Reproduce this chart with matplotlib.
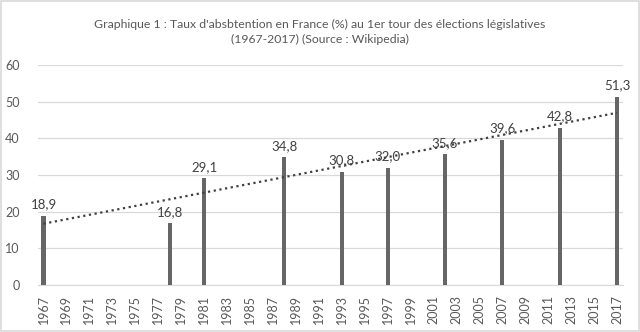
import numpy as np
import matplotlib.pyplot as plt
from matplotlib.patches import Rectangle

plt.rcParams['font.family'] = ['Lato', 'DejaVu Sans']

# Abstention au 1er tour des législatives (%)
annees = [1967, 1978, 1981, 1988, 1993, 1997, 2002, 2007, 2012, 2017]
abstention = [18.9, 16.8, 29.1, 34.8, 30.8, 32.0, 35.6, 39.6, 42.8, 51.3]
toutes_annees = list(range(1967, 2018))

fig = plt.figure(figsize=(6.4, 3.32), dpi=100)
ax = fig.add_axes([0.059, 0.1416, 0.914, 0.6627])

pos = [toutes_annees.index(a) for a in annees]
ax.bar(pos, abstention, width=0.35, color='#666666', zorder=3)

# tendance linéaire
coef = np.polyfit(annees, abstention, 1)
xt = np.array([toutes_annees[0], toutes_annees[-1]])
ax.plot([0, len(toutes_annees) - 1], np.polyval(coef, xt), linestyle=(0, (1, 1.6)),
        color='#404040', linewidth=1.6, zorder=4)

for p, v in zip(pos, abstention):
    ax.annotate(f'{v:.1f}'.replace('.', ','), (p, v), xytext=(0, 4),
                textcoords='offset points', ha='center', va='bottom',
                fontsize=9.5, color='#404040', zorder=5)

ax.set_xlim(-0.5, len(toutes_annees) - 0.5)
ax.set_ylim(0, 60)
ax.set_yticks(range(0, 61, 10))
ax.set_xticks(range(0, len(toutes_annees), 2))
ax.set_xticklabels([str(a) for a in toutes_annees[::2]], rotation=90)
ax.tick_params(length=0, colors='#595959', labelsize=9)
ax.tick_params(axis='y', pad=13)
ax.tick_params(axis='x', pad=7)
ax.grid(axis='y', color='#d9d9d9', linewidth=0.9, zorder=0)
for s in ['top', 'right', 'left']:
    ax.spines[s].set_visible(False)
ax.spines['bottom'].set_color('#d9d9d9')

fig.text(0.5, 0.905, "Graphique 1 : Taux d'absbtention en France (%) au 1er tour des élections législatives\n(1967-2017) (Source : Wikipedia)",
         ha='center', va='center', fontsize=8.8, color='#595959', linespacing=1.45)

fig.patches.append(Rectangle((0.002, 0.003), 0.996, 0.994, transform=fig.transFigure,
                             fill=False, edgecolor='#d9d9d9', linewidth=1.2))

fig.savefig('out.png', dpi=100)
